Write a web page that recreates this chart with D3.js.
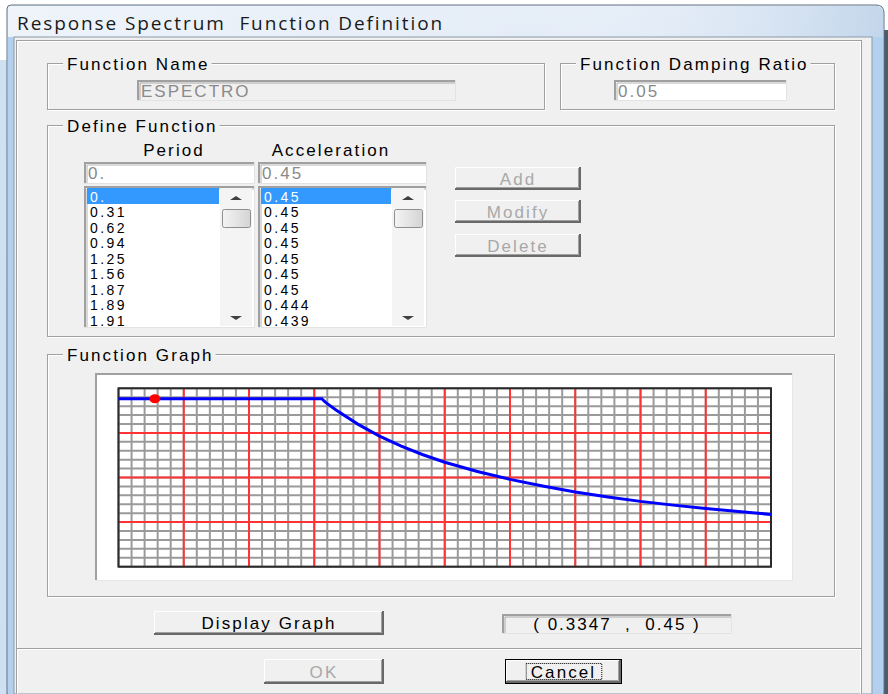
<!DOCTYPE html>
<html>
<head>
<meta charset="utf-8">
<script src="https://cdn.jsdelivr.net/npm/d3@7"></script>
<style>
  body { margin: 0; background: #fff; }
  svg text { font-family: "Liberation Sans", Arial, sans-serif; white-space: pre; }
</style>
</head>
<body>
<div id="dialog"></div>
<script>
// Spectrum data (period in s, acceleration in g)
var periods = [0, 0.31, 0.62, 0.94, 1.25, 1.56, 1.87, 1.89, 1.91, 2.0, 2.2, 2.4, 2.6, 2.8, 3.0,
               3.3, 3.6, 3.9, 4.2, 4.5, 4.8, 5.1, 5.4, 5.7, 6.0];
var accels  = [0.45, 0.45, 0.45, 0.45, 0.45, 0.45, 0.45, 0.444, 0.439, 0.42, 0.382, 0.35, 0.323, 0.30, 0.28,
               0.255, 0.234, 0.216, 0.20, 0.187, 0.175, 0.165, 0.156, 0.148, 0.14];
var periodLabels = ["0.", "0.31", "0.62", "0.94", "1.25", "1.56", "1.87", "1.89", "1.91"];
var accelLabels  = ["0.45", "0.45", "0.45", "0.45", "0.45", "0.45", "0.45", "0.444", "0.439"];
var cursorPoint = [0.3347, 0.45];
var xDomain = [0, 6];
var yDomain = [0, 0.478];

var svgWidth = 888;
var svgHeight = 694;

var svg = d3.select("#dialog")
  .append("svg")
  .attr("width", svgWidth)
  .attr("height", svgHeight);

var defs = svg.append("defs");
var tg = defs.append("linearGradient").attr("id", "titleGrad")
  .attr("x1", 0).attr("y1", 0).attr("x2", 0).attr("y2", 1);
tg.append("stop").attr("offset", "0%").attr("stop-color", "#e6eef8");
tg.append("stop").attr("offset", "100%").attr("stop-color", "#c3d7ee");
var tg2 = defs.append("linearGradient").attr("id", "titleGrad2")
  .attr("x1", 0).attr("y1", 0).attr("x2", 1).attr("y2", 0);
tg2.append("stop").attr("offset", "0%").attr("stop-color", "#ffffff").attr("stop-opacity", 0.35);
tg2.append("stop").attr("offset", "60%").attr("stop-color", "#ffffff").attr("stop-opacity", 0);
tg2.append("stop").attr("offset", "100%").attr("stop-color", "#8fb2d8").attr("stop-opacity", 0.4);
var thumbGrad = defs.append("linearGradient").attr("id", "thumbGrad")
  .attr("x1", 0).attr("y1", 0).attr("x2", 1).attr("y2", 0);
thumbGrad.append("stop").attr("offset", "0%").attr("stop-color", "#f4f4f4");
thumbGrad.append("stop").attr("offset", "100%").attr("stop-color", "#d4d4d4");

// ---- window frame ----
svg.append("rect").attr("x", 884).attr("y", 30).attr("width", 4).attr("height", 664).attr("fill", "#4d5c6b");
svg.append("rect").attr("x", 0).attr("y", 60).attr("width", 7).attr("height", 634).attr("fill", "#cfe0f2");
svg.append("path")
  .attr("d", "M7,694 L7,9 Q7,5 11,5 L876,5 Q884,5 884,13 L884,694 Z")
  .attr("fill", "url(#titleGrad)")
  .attr("stroke", "#5f6f80").attr("stroke-width", 1);
svg.append("path")
  .attr("d", "M8,694 L8,9 Q8,6 11,6 L876,6 Q883,6 883,13 L883,694 Z")
  .attr("fill", "url(#titleGrad2)");
svg.append("rect").attr("x", 872).attr("y", 37).attr("width", 11).attr("height", 657).attr("fill", "#b3d0ef");
svg.append("rect").attr("x", 8).attr("y", 37).attr("width", 6).attr("height", 657).attr("fill", "#b3d0ef");

svg.append("text")
  .attr("x", 17).attr("y", 30)
  .attr("font-size", 19).attr("fill", "#1a1a1a")
  .style("font-family", "'Open Sans', 'DejaVu Sans', sans-serif")
  .style("letter-spacing", "1.9px")
  .text("Response Spectrum  Function Definition");

// client area
svg.append("rect").attr("x", 14).attr("y", 37).attr("width", 858).attr("height", 657)
  .attr("fill", "#f0f0f0").attr("stroke", "#8a99a8").attr("stroke-width", 1);
svg.append("rect").attr("x", 16.5).attr("y", 40.5).attr("width", 845).attr("height", 670)
  .attr("fill", "none").attr("stroke", "#a0a0a0");
svg.append("rect").attr("x", 17.5).attr("y", 41.5).attr("width", 843).attr("height", 670)
  .attr("fill", "none").attr("stroke", "#ffffff");

// ---- helpers ----
function label(x, y, txt, opts) {
  opts = opts || {};
  return svg.append("text")
    .attr("x", x).attr("y", y)
    .attr("font-size", opts.size || 17)
    .attr("fill", opts.fill || "#000")
    .attr("text-anchor", opts.anchor || "start")
    .style("letter-spacing", (opts.ls === undefined ? 2.1 : opts.ls) + "px")
    .text(txt);
}

function groupBox(x, y, w, h, title) {
  svg.append("rect").attr("x", x + 0.5).attr("y", y + 0.5).attr("width", w).attr("height", h)
    .attr("fill", "none").attr("stroke", "#ffffff");
  svg.append("rect").attr("x", x - 0.5).attr("y", y - 0.5).attr("width", w).attr("height", h)
    .attr("fill", "none").attr("stroke", "#a0a0a0");
  var gap = svg.append("rect").attr("x", x + 15).attr("y", y - 9).attr("height", 18)
    .attr("fill", "#f0f0f0");
  var t = label(x + 19, y + 6, title);
  gap.attr("width", t.node().getComputedTextLength() + 6);
}

function sunken(x, y, w, h, fill) {
  svg.append("rect").attr("x", x).attr("y", y).attr("width", w).attr("height", h).attr("fill", fill);
  svg.append("path").attr("d", `M${x + 1},${y + h} L${x + 1},${y + 1} L${x + w},${y + 1}`)
    .attr("fill", "none").attr("stroke", "#a0a0a0").attr("stroke-width", 2);
  svg.append("path").attr("d", `M${x + 3},${y + h - 1} L${x + 3},${y + 3} L${x + w - 1},${y + 3}`)
    .attr("fill", "none").attr("stroke", "#696969").attr("stroke-width", 1).attr("opacity", 0.5);
  svg.append("path").attr("d", `M${x},${y + h - 0.5} L${x + w - 0.5},${y + h - 0.5} L${x + w - 0.5},${y}`)
    .attr("fill", "none").attr("stroke", "#e3e3e3").attr("stroke-width", 1);
}

function button(x, y, w, h, txt, enabled, isDefault) {
  svg.append("rect").attr("x", x).attr("y", y).attr("width", w).attr("height", h).attr("fill", "#f0f0f0");
  if (isDefault) {
    svg.append("rect").attr("x", x + 0.5).attr("y", y + 0.5).attr("width", w - 1).attr("height", h - 1)
      .attr("fill", "none").attr("stroke", "#000").attr("stroke-width", 1);
  }
  var o = isDefault ? 1 : 0;
  svg.append("path").attr("d", `M${x + o + 0.5},${y + h - o - 1} L${x + o + 0.5},${y + o + 0.5} L${x + w - o - 1},${y + o + 0.5}`)
    .attr("fill", "none").attr("stroke", "#ffffff").attr("stroke-width", 1);
  svg.append("path").attr("d", `M${x + o},${y + h - o - 1} L${x + w - o - 1},${y + h - o - 1} L${x + w - o - 1},${y + o}`)
    .attr("fill", "none").attr("stroke", "#696969").attr("stroke-width", 2);
  svg.append("path").attr("d", `M${x + o + 1},${y + h - o - 2.5} L${x + w - o - 2.5},${y + h - o - 2.5} L${x + w - o - 2.5},${y + o + 1}`)
    .attr("fill", "none").attr("stroke", "#a0a0a0").attr("stroke-width", 1);
  var t = label(x + w / 2, y + h / 2 + 6, txt, { anchor: "middle", fill: enabled ? "#000" : "#a8a8a8" });
  if (isDefault) {
    var bw = t.node().getComputedTextLength() + 10;
    svg.append("rect").attr("x", x + w / 2 - bw / 2 + 0.5).attr("y", y + 4.5).attr("width", bw).attr("height", h - 9)
      .attr("fill", "none").attr("stroke", "#000").attr("stroke-dasharray", "1,1");
  }
}

// ---- Function Name / Damping ----
groupBox(48, 64, 497, 46, "Function Name");
sunken(137, 80, 319, 21, "#f0f0f0");
label(141, 97, "ESPECTRO", { fill: "#8a8a8a", ls: 2 });

groupBox(561, 64, 274, 46, "Function Damping Ratio");
sunken(614, 80, 173, 21, "#ffffff");
label(618, 97, "0.05", { fill: "#8a8a8a", ls: 2 });

// ---- Define Function ----
groupBox(48, 126, 787, 211, "Define Function");
label(174, 156, "Period", { anchor: "middle" });
label(331, 156, "Acceleration", { anchor: "middle" });

sunken(84, 162, 171, 22, "#ffffff");
label(88, 179, periodLabels[0], { fill: "#8a8a8a", ls: 2 });
sunken(258, 162, 169, 22, "#ffffff");
label(262, 179, accelLabels[0], { fill: "#8a8a8a", ls: 2 });

function listBox(x, w, items) {
  var y = 186, h = 142;
  sunken(x, y, w, h, "#ffffff");
  var rowY = d3.scaleLinear().domain([0, 1]).range([196, 211.5]);
  var sbX = x + w - 35;
  svg.append("rect").attr("x", x + 3).attr("y", 188).attr("width", sbX - x - 4).attr("height", 16)
    .attr("fill", "#3399ff");
  svg.selectAll(null).data(items).enter().append("text")
    .attr("x", x + 6)
    .attr("y", function(d, i) { return rowY(i) + 5.5; })
    .attr("font-size", 14)
    .attr("fill", function(d, i) { return i === 0 ? "#ffffff" : "#000"; })
    .style("letter-spacing", "2.4px")
    .text(function(d) { return d; });
  // scrollbar
  svg.append("rect").attr("x", sbX).attr("y", 188).attr("width", 32).attr("height", 138).attr("fill", "#f4f4f4");
  svg.append("path").attr("d", `M${sbX + 10},${200} L${sbX + 16},${196} L${sbX + 22},${200} Z`).attr("fill", "#404040");
  svg.append("path").attr("d", `M${sbX + 10},${316} L${sbX + 16},${320} L${sbX + 22},${316} Z`).attr("fill", "#404040");
  svg.append("rect").attr("x", sbX + 2.5).attr("y", 209.5).attr("width", 28).attr("height", 18).attr("rx", 2)
    .attr("fill", "url(#thumbGrad)").attr("stroke", "#8e8e8e");
}
listBox(84, 171, periodLabels);
listBox(258, 169, accelLabels);

button(455, 167, 126, 23, "Add", false);
button(455, 200, 126, 23, "Modify", false);
button(455, 234, 126, 23, "Delete", false);

// ---- Function Graph ----
groupBox(48, 355, 787, 242, "Function Graph");
svg.append("rect").attr("x", 95).attr("y", 373).attr("width", 697).attr("height", 207).attr("fill", "#ffffff");
svg.append("path").attr("d", "M96,580 L96,374 L792,374").attr("fill", "none").attr("stroke", "#a0a0a0").attr("stroke-width", 2);
svg.append("path").attr("d", "M95,580.5 L792.5,580.5 L792.5,373").attr("fill", "none").attr("stroke", "#e6e6e6");

var plot = { left: 118.5, right: 771, top: 388.3, bottom: 566.7 };
var xScale = d3.scaleLinear().domain(xDomain).range([plot.left, plot.right]);
var yScale = d3.scaleLinear().domain(yDomain).range([plot.bottom, plot.top]);

var graph = svg.append("g");
var xMinor = d3.range(51).map(function(i) { return xDomain[0] + (xDomain[1] - xDomain[0]) * i / 50; });
var yMinor = d3.range(21).map(function(i) { return yDomain[0] + (yDomain[1] - yDomain[0]) * i / 20; });

graph.selectAll(".vminor").data(xMinor).enter().append("line")
  .attr("x1", function(d) { return xScale(d); }).attr("x2", function(d) { return xScale(d); })
  .attr("y1", plot.top).attr("y2", plot.bottom)
  .attr("stroke", "#9a9a9a").attr("stroke-width", 2);
graph.selectAll(".hminor").data(yMinor).enter().append("line")
  .attr("y1", function(d) { return yScale(d); }).attr("y2", function(d) { return yScale(d); })
  .attr("x1", plot.left).attr("x2", plot.right)
  .attr("stroke", "#9a9a9a").attr("stroke-width", 2);
graph.selectAll(".vmajor").data(xMinor.filter(function(d, i) { return i % 5 === 0 && i > 0 && i < 50; }))
  .enter().append("line")
  .attr("x1", function(d) { return xScale(d); }).attr("x2", function(d) { return xScale(d); })
  .attr("y1", plot.top).attr("y2", plot.bottom)
  .attr("stroke", "#ff3333").attr("stroke-width", 2);
graph.selectAll(".hmajor").data(yMinor.filter(function(d, i) { return i % 5 === 0 && i > 0 && i < 20; }))
  .enter().append("line")
  .attr("y1", function(d) { return yScale(d); }).attr("y2", function(d) { return yScale(d); })
  .attr("x1", plot.left).attr("x2", plot.right)
  .attr("stroke", "#ff3333").attr("stroke-width", 2);
graph.append("rect")
  .attr("x", plot.left).attr("y", plot.top)
  .attr("width", plot.right - plot.left).attr("height", plot.bottom - plot.top)
  .attr("fill", "none").attr("stroke", "#2a2a2a").attr("stroke-width", 2);

var line = d3.line()
  .x(function(d) { return xScale(d[0]); })
  .y(function(d) { return yScale(d[1]); });
graph.append("path")
  .datum(periods.map(function(p, i) { return [p, accels[i]]; }))
  .attr("d", line)
  .attr("fill", "none").attr("stroke", "#0000ff").attr("stroke-width", 3);
graph.append("ellipse")
  .attr("cx", xScale(cursorPoint[0])).attr("cy", yScale(cursorPoint[1]))
  .attr("rx", 5.5).attr("ry", 4.5).attr("fill", "#ff0000");

button(154, 611, 230, 24, "Display Graph", true);
sunken(502, 614, 230, 20, "#f0f0f0");
label(617, 630, "( " + cursorPoint[0] + "  ,  " + cursorPoint[1] + " )", { anchor: "middle", ls: 2 });

// separator
svg.append("line").attr("x1", 17).attr("x2", 861).attr("y1", 648.5).attr("y2", 648.5).attr("stroke", "#a0a0a0");
svg.append("line").attr("x1", 17).attr("x2", 861).attr("y1", 649.5).attr("y2", 649.5).attr("stroke", "#ffffff");

button(264, 659, 120, 25, "OK", false);
button(505, 659, 117, 25, "Cancel", true, true);
</script>
</body>
</html>
